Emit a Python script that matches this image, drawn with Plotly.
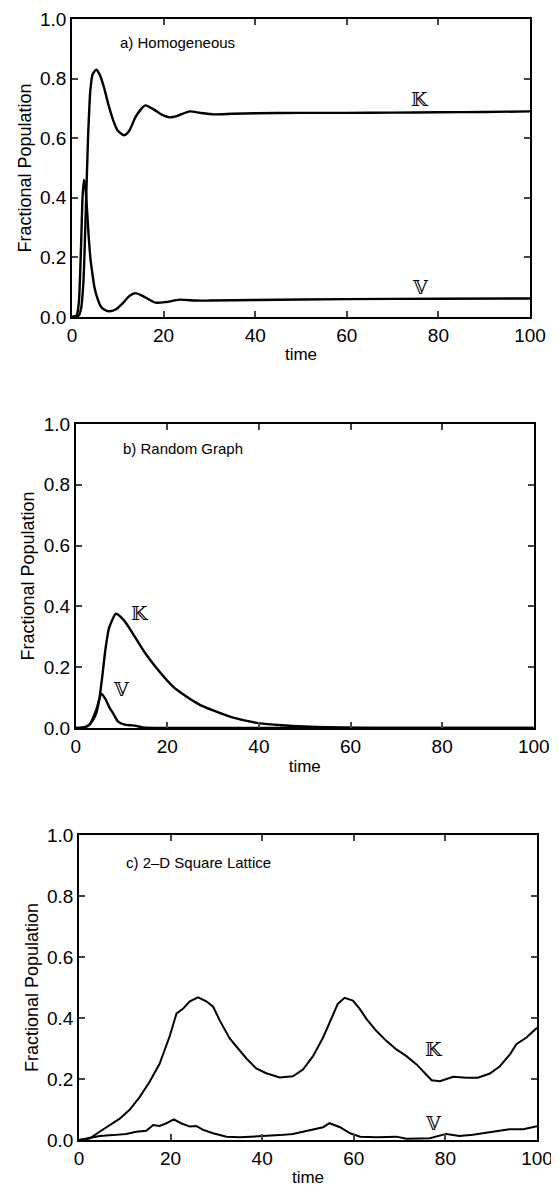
import plotly.graph_objects as go
from plotly.subplots import make_subplots

# Panel a) Homogeneous
a_tK = [0, 1.5, 2, 2.5, 3, 3.5, 4, 4.5, 5.3, 6, 7, 8, 9, 10, 11.4, 12.5, 14, 16, 18, 19.5, 21.4, 23, 25.7, 28, 31, 35, 40, 50, 60, 70, 80, 90, 100]
a_K = [0, 0.005, 0.03, 0.12, 0.35, 0.6, 0.76, 0.815, 0.83, 0.815, 0.77, 0.71, 0.66, 0.625, 0.61, 0.625, 0.675, 0.71, 0.695, 0.68, 0.67, 0.675, 0.69, 0.685, 0.68, 0.682, 0.684, 0.685, 0.685, 0.686, 0.687, 0.688, 0.69]
a_tV = [0, 1, 1.5, 2, 2.3, 2.6, 2.9, 3.2, 3.6, 4.0, 4.5, 4.9, 5.5, 6.3, 7, 8.1, 9.5, 11, 12.5, 13.9, 15.5, 18.2, 20.5, 23.5, 27, 30, 40, 60, 80, 100]
a_V = [0, 0.005, 0.05, 0.25, 0.4, 0.46, 0.44, 0.38, 0.28, 0.2, 0.14, 0.1, 0.065, 0.035, 0.025, 0.019, 0.025, 0.045, 0.07, 0.08, 0.07, 0.048, 0.05, 0.058, 0.055, 0.055, 0.057, 0.06, 0.061, 0.062]

# Panel b) Random Graph
b_tK = [0, 2, 3, 3.8, 4.5, 5.2, 5.8, 6.5, 7.3, 8.8, 10.5, 12.5, 15, 17.5, 21.2, 24, 27, 30, 34.2, 40, 45, 50, 55, 60, 70, 80, 100]
b_K = [0, 0.003, 0.012, 0.027, 0.05, 0.1, 0.17, 0.26, 0.33, 0.376, 0.355, 0.31, 0.25, 0.2, 0.137, 0.105, 0.077, 0.058, 0.035, 0.016, 0.009, 0.005, 0.003, 0.001, 0, 0, 0]
b_tV = [0, 2, 3, 4.5, 5.6, 6.5, 7.4, 8.1, 9.2, 10.7, 12, 13.2, 14.6, 20, 100]
b_V = [0, 0.003, 0.01, 0.06, 0.113, 0.095, 0.066, 0.05, 0.022, 0.011, 0.009, 0.007, 0.002, 0, 0]

# Panel c) 2-D Square Lattice
c_tK = [0, 2.3, 4.5, 6.7, 8.9, 11.1, 13.2, 15.4, 17.6, 19.8, 21.3, 22.7, 24.2, 26, 27.8, 29.3, 30.7, 32.9, 34.4, 36.5, 38.7, 40.9, 43.8,
        46.7, 48.9, 51.1, 53.3, 55.1, 56.5, 58, 59.8, 61.3, 62.8, 64.9, 67.1, 69.3, 71.5, 73.7, 75.9, 77, 78.8, 80.2, 81.7, 84.6, 87.1,
        89.7, 91.9, 94.1, 95.5, 97.7, 100]
c_K = [0, 0.005, 0.027, 0.05, 0.07, 0.1, 0.14, 0.19, 0.25, 0.34, 0.415, 0.43, 0.455, 0.468, 0.455, 0.437, 0.393, 0.333, 0.306, 0.268, 0.235, 0.219, 0.205,
       0.209, 0.231, 0.275, 0.336, 0.396, 0.446, 0.466, 0.457, 0.43, 0.396, 0.358, 0.325, 0.297, 0.275, 0.248, 0.215, 0.196, 0.193, 0.2, 0.207, 0.204, 0.204,
       0.218, 0.242, 0.281, 0.314, 0.336, 0.368]
c_tV = [0, 4.5, 7.4, 10.3, 12.5, 14.7, 16.2, 17.6, 19.1, 20.7, 22.3, 24.2, 25.6, 27.1, 29.3, 32.2, 35.1, 38, 40.2, 43.8,
        46.7, 50.3, 53.3, 54.7, 57, 59.2, 61.4, 65, 69.3, 71.5, 74.4, 76.6, 80.2, 83.1, 86, 90.4, 94, 97, 100]
c_V = [0, 0.013, 0.016, 0.02, 0.027, 0.03, 0.049, 0.046, 0.055, 0.068, 0.055, 0.044, 0.046, 0.033, 0.022, 0.011, 0.009, 0.011, 0.014, 0.016,
       0.02, 0.033, 0.042, 0.055, 0.042, 0.022, 0.011, 0.009, 0.011, 0.004, 0.004, 0.006, 0.02, 0.013, 0.017, 0.028, 0.035, 0.035, 0.045]

panel_titles = ["a) Homogeneous", "b) Random Graph", "c) 2\u2013D Square Lattice"]
x_ticks = [0, 20, 40, 60, 80, 100]
y_ticks = [0.0, 0.2, 0.4, 0.6, 0.8, 1.0]
y_ticklabels = ["0.0", "0.2", "0.4", "0.6", "0.8", "1.0"]
K_label = "\U0001D542"
V_label = "\U0001D54D"

fig = make_subplots(rows=3, cols=1)
lw = 2.4
fig.add_trace(go.Scatter(x=a_tK, y=a_K, mode="lines", line=dict(color="black", width=lw, shape="spline", smoothing=0.6)), row=1, col=1)
fig.add_trace(go.Scatter(x=a_tV, y=a_V, mode="lines", line=dict(color="black", width=lw, shape="spline", smoothing=0.6)), row=1, col=1)
fig.add_trace(go.Scatter(x=b_tK, y=b_K, mode="lines", line=dict(color="black", width=lw, shape="spline", smoothing=0.6)), row=2, col=1)
fig.add_trace(go.Scatter(x=b_tV, y=b_V, mode="lines", line=dict(color="black", width=lw, shape="spline", smoothing=0.6)), row=2, col=1)
fig.add_trace(go.Scatter(x=c_tK, y=c_K, mode="lines", line=dict(color="black", width=2)), row=3, col=1)
fig.add_trace(go.Scatter(x=c_tV, y=c_V, mode="lines", line=dict(color="black", width=2)), row=3, col=1)

font_family = "Liberation Sans, Arial, sans-serif"
ydoms = [[0.7316, 0.9964], [0.3662, 0.6364], [0.0, 0.2711]]
xdoms = [[0.0, 0.985], [0.008, 0.993], [0.015, 1.0]]
for i in range(3):
    xa = "xaxis" if i == 0 else f"xaxis{i+1}"
    ya = "yaxis" if i == 0 else f"yaxis{i+1}"
    fig.layout[xa].update(domain=xdoms[i], range=[0, 100], tickvals=x_ticks, ticks="inside", ticklen=6, tickwidth=1.5,
                          showline=True, linecolor="black", linewidth=1.6, mirror="ticks", showgrid=False, zeroline=False,
                          automargin=False, ticklabeloverflow="allow",
                          tickfont=dict(size=19, color="black", family=font_family),
                          title=dict(text="time", font=dict(size=17, color="black", family=font_family), standoff=4))
    fig.layout[ya].update(domain=ydoms[i], range=[0, 1.0], tickvals=y_ticks, ticktext=y_ticklabels, ticks="inside", ticklen=6, tickwidth=1.5,
                          showline=True, linecolor="black", linewidth=1.6, mirror="ticks", showgrid=False, zeroline=False,
                          automargin=False, ticklabeloverflow="allow",
                          tickfont=dict(size=19, color="black", family=font_family),
                          title=dict(text="Fractional Population", font=dict(size=18, color="black", family=font_family), standoff=4))

title_pos = [(23, 0.92), (23.5, 0.92), (26, 0.91)]
K_pos = [(76, 0.73), (14, 0.38), (77.5, 0.30)]
V_pos = [(76, 0.10), (10, 0.13), (77.5, 0.055)]
for i in range(3):
    xr = "x" if i == 0 else f"x{i+1}"
    yr = "y" if i == 0 else f"y{i+1}"
    fig.add_annotation(x=title_pos[i][0], y=title_pos[i][1], xref=xr, yref=yr, text=panel_titles[i], showarrow=False,
                       font=dict(size=15, color="black", family=font_family))
    fig.add_annotation(x=K_pos[i][0], y=K_pos[i][1], xref=xr, yref=yr, text=K_label, showarrow=False,
                       font=dict(size=19, color="black", family="DejaVu Serif, DejaVu Sans"))
    fig.add_annotation(x=V_pos[i][0], y=V_pos[i][1], xref=xr, yref=yr, text=V_label, showarrow=False,
                       font=dict(size=19, color="black", family="DejaVu Serif, DejaVu Sans"))

fig.update_layout(width=551, height=1184, margin=dict(l=64, r=22, t=7, b=52), showlegend=False,
                  plot_bgcolor="white", paper_bgcolor="white")
fig.write_html("out.html")
